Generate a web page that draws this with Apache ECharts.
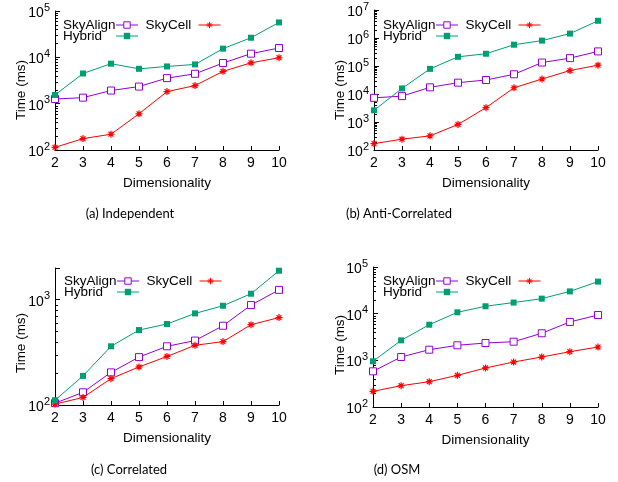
<!DOCTYPE html>
<html><head><meta charset="utf-8">
<script src="https://cdn.jsdelivr.net/npm/echarts@6/dist/echarts.min.js"></script>
<style>html,body{margin:0;padding:0;background:#fff}#c{width:618px;height:482px}</style>
</head><body><div id="c"></div>
<script>
const dims = ['2','3','4','5','6','7','8','9','10'];
const indepSkyAlign = [1260,1350,1920,2340,3560,4410,7530,12000,15900];
const indepSkyCell  = [114,176,219,605,1820,2460,4980,7620,9800];
const indepHybrid   = [1540,4480,7300,5650,6360,7030,15400,26500,56700];
const antiSkyAlign  = [7300,8400,17300,25400,31600,50600,133000,191000,332000];
const antiSkyCell   = [169,243,320,818,3260,16700,34300,69000,107000];
const antiHybrid    = [2620,15800,79000,213000,274000,576000,807000,1440000,4120000];
const corrSkyAlign  = [104,132,204,285,361,409,566,889,1240];
const corrSkyCell   = [102,118,178,230,289,369,400,579,676];
const corrHybrid    = [111,189,361,515,588,741,876,1140,1885];
const osmSkyAlign   = [581,1180,1690,2100,2350,2510,3800,6650,9350];
const osmSkyCell    = [217,286,349,477,686,921,1180,1530,1930];
const osmHybrid     = [955,2680,5800,10700,14400,17300,21000,30000,48600];
const captions = ['(a) Independent','(b) Anti-Correlated','(c) Correlated','(d) OSM'];
const seriesNames = ['SkyAlign','SkyCell','Hybrid'];
const yMins = [100,100,100,100];
const yMaxs = [1e5,1e7,2000,1e5];
const xTitle = 'Dimensionality';
const yTitle = 'Time (ms)';

const panelData = [
  [indepSkyAlign, indepSkyCell, indepHybrid],
  [antiSkyAlign, antiSkyCell, antiHybrid],
  [corrSkyAlign, corrSkyCell, corrHybrid],
  [osmSkyAlign, osmSkyCell, osmHybrid]
];
// layout
const grids = [
  {left:55, top:11, width:224, height:139},
  {left:374, top:10, width:224, height:140},
  {left:55, top:268, width:224, height:137},
  {left:373, top:267, width:225, height:140}
];
const legendPos = [[63,16],[383,16],[64,272],[383,272]];
const yTitlePos = [[21,90],[340,90],[21,343],[340,345]];
const capPos = [[130,214],[399,214],[129,470],[397,470]];

const colors = {SkyAlign:'#9400d3', SkyCell:'#ff0000', Hybrid:'#009e73'};
const FONT = '"Liberation Sans", Arial, sans-serif';
const starPath = 'path://M5,0L5,10M0,5L10,5M1.5,1.5L8.5,8.5M8.5,1.5L1.5,8.5';

function minorVals(mn, mx){
  const out=[];
  for(let k=Math.floor(Math.log10(mn)); k<=Math.ceil(Math.log10(mx)); k++){
    for(let m=2;m<=9;m++){const v=m*Math.pow(10,k); if(v>mn && v<mx) out.push([0,v]);}
  }
  return out;
}

const option = {
  animation:false,
  backgroundColor:'#fff',
  grid:[], xAxis:[], yAxis:[], series:[], legend:[], graphic:[]
};

grids.forEach((g,i)=>{
  option.grid.push(Object.assign({containLabel:false}, g));
  option.xAxis.push({
    type:'category', gridIndex:i, data:dims, boundaryGap:false,
    name:xTitle, nameLocation:'middle', nameGap:26,
    nameTextStyle:{fontFamily:FONT, fontSize:13.5, color:'#000'},
    axisLine:{lineStyle:{color:'#000', width:1}},
    axisTick:{inside:true, length:4, lineStyle:{color:'#000'}},
    axisLabel:{fontFamily:FONT, fontSize:14, color:'#000', margin:6},
    splitLine:{show:false}
  });
  option.yAxis.push({
    type:'log', logBase:10, gridIndex:i, min:yMins[i], max:yMaxs[i],
    axisLine:{show:true, lineStyle:{color:'#000', width:1}},
    axisTick:{show:true, inside:true, length:5, lineStyle:{color:'#000'}},
    splitLine:{show:false},
    axisLabel:{
      margin:5, color:'#000',
      formatter:function(v){
        const e=Math.log10(v);
        if(Math.abs(e-Math.round(e))>1e-6) return '';
        return '{b|10}{s|'+Math.round(e)+'}';
      },
      rich:{
        b:{fontFamily:FONT, fontSize:14, color:'#000', lineHeight:18, verticalAlign:'bottom'},
        s:{fontFamily:FONT, fontSize:11, color:'#000', lineHeight:11, verticalAlign:'top'}
      }
    }
  });
  const d = panelData[i];
  seriesNames.forEach((n,j)=>{
    const s = {
      name:n, type:'line', xAxisIndex:i, yAxisIndex:i, data:d[j],
      lineStyle:{color:colors[n], width:1}, itemStyle:{color:colors[n]},
      symbolSize:7, z: 3 + j
    };
    if(n==='SkyAlign'){ s.symbol='rect'; s.symbolSize=7; s.itemStyle={color:'#fff', borderColor:colors[n], borderWidth:1}; }
    if(n==='Hybrid'){ s.symbol='rect'; s.symbolSize=6; }
    if(n==='SkyCell'){ s.symbol=starPath; s.symbolSize=7; s.itemStyle={color:colors[n], borderColor:colors[n], borderWidth:1.2}; }
    option.series.push(s);
  });
  option.series.push({
    type:'custom', xAxisIndex:i, yAxisIndex:i, silent:true, z:1,
    data:minorVals(yMins[i], yMaxs[i]),
    encode:{x:0, y:1},
    renderItem:function(params, api){
      const p = api.coord([0, api.value(1)]);
      const y = Math.round(p[1])+0.5;
      return {type:'line', shape:{x1:p[0], y1:y, x2:p[0]+3, y2:y}, style:{stroke:'#000', lineWidth:1}};
    }
  });
  const lx = legendPos[i][0], ly = legendPos[i][1];
  const legBase = {
    orient:'horizontal', align:'right', itemWidth:22, itemHeight:8, padding:0,
    itemStyle:{borderWidth:1}, lineStyle:{width:1},
    formatter:function(name){return '{t|'+name+'}';},
    textStyle:{rich:{t:{fontFamily:FONT, fontSize:13.5, color:'#000', width:48, lineHeight:14, align:'left'}}},
    selectedMode:false
  };
  option.legend.push(Object.assign({}, legBase, {left:lx, top:ly+2, itemGap:7, data:['SkyAlign','SkyCell']}));
  option.legend.push(Object.assign({}, legBase, {left:lx, top:ly+13, itemGap:7, data:['Hybrid']}));
  option.graphic.push({
    type:'text', x:yTitlePos[i][0], y:yTitlePos[i][1], rotation:Math.PI/2,
    style:{text:yTitle, font:'13.5px '+FONT, fill:'#000', align:'center', verticalAlign:'middle', textAlign:'center', textVerticalAlign:'middle'}
  });
  option.graphic.push({
    type:'text', x:capPos[i][0], y:capPos[i][1],
    style:{text:captions[i], font:'13px Lato, "Open Sans", sans-serif', fill:'#000', align:'center', verticalAlign:'middle', textAlign:'center', textVerticalAlign:'middle'}
  });
});

const chart = echarts.init(document.getElementById('c'), null, {renderer:'canvas'});
chart.setOption(option);
</script>
</body></html>
